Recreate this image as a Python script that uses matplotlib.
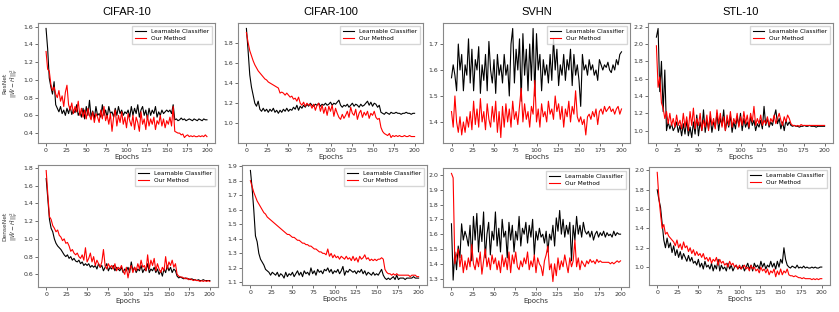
import numpy as np
import matplotlib
matplotlib.use("Agg")
import matplotlib.pyplot as plt
from matplotlib.ticker import MultipleLocator

# epochs sampled every 2
epochs = np.arange(0, 201, 2)

datasets = ["CIFAR-10", "CIFAR-100", "SVHN", "STL-10"]
models = ["ResNet", "DenseNet"]

# ---------------- ResNet ----------------
res_c10_lc = [1.58, 1.35, 1.02, 0.92, 0.84, 0.98, 0.72, 0.68, 0.64, 0.70, 0.62, 0.66, 0.60, 0.68, 0.62, 0.70,
              0.61, 0.66, 0.63, 0.72, 0.60, 0.64, 0.58, 0.68, 0.56, 0.70, 0.60, 0.77, 0.58, 0.65, 0.56, 0.70,
              0.60, 0.62, 0.58, 0.72, 0.60, 0.66, 0.58, 0.70, 0.62, 0.64, 0.58, 0.68, 0.60, 0.70, 0.62, 0.66,
              0.60, 0.64, 0.62, 0.66, 0.58, 0.70, 0.60, 0.68, 0.62, 0.72, 0.58, 0.66, 0.70, 0.60, 0.66, 0.56,
              0.68, 0.60, 0.66, 0.62, 0.70, 0.58, 0.64, 0.60, 0.66, 0.62, 0.64, 0.66, 0.64, 0.66, 0.62, 0.72,
              0.55, 0.56, 0.54, 0.55, 0.57, 0.55, 0.56, 0.54, 0.55, 0.56, 0.55, 0.54, 0.56, 0.55, 0.54, 0.56,
              0.55, 0.54, 0.56, 0.55, 0.55]
res_c10_om = [1.32, 1.12, 1.10, 0.95, 0.88, 0.92, 0.84, 0.80, 0.88, 0.76, 0.82, 0.70, 0.86, 0.94, 0.72, 0.66,
              0.74, 0.62, 0.70, 0.64, 0.76, 0.60, 0.68, 0.58, 0.66, 0.56, 0.68, 0.60, 0.55, 0.64, 0.52, 0.62,
              0.58, 0.52, 0.66, 0.56, 0.70, 0.54, 0.60, 0.50, 0.62, 0.42, 0.58, 0.66, 0.48, 0.60, 0.52, 0.64,
              0.50, 0.58, 0.46, 0.62, 0.54, 0.48, 0.60, 0.44, 0.58, 0.52, 0.42, 0.64, 0.50, 0.56, 0.44, 0.60,
              0.48, 0.56, 0.50, 0.58, 0.44, 0.54, 0.50, 0.60, 0.48, 0.56, 0.46, 0.54, 0.50, 0.58, 0.48, 0.70,
              0.42, 0.41, 0.40, 0.40, 0.38, 0.39, 0.35, 0.37, 0.38, 0.36, 0.37, 0.36, 0.37, 0.36, 0.36, 0.37,
              0.36, 0.37, 0.36, 0.38, 0.36]

res_c100_lc = [1.94, 1.72, 1.48, 1.36, 1.28, 1.20, 1.17, 1.22, 1.14, 1.12, 1.15, 1.12, 1.14, 1.11, 1.14, 1.12,
               1.15, 1.11, 1.13, 1.10, 1.13, 1.11, 1.14, 1.12, 1.15, 1.12, 1.14, 1.13, 1.16, 1.14, 1.18, 1.13,
               1.17, 1.15, 1.18, 1.16, 1.19, 1.17, 1.20, 1.18, 1.17, 1.19, 1.18, 1.20, 1.17, 1.19, 1.18, 1.20,
               1.18, 1.19, 1.21, 1.18, 1.20, 1.19, 1.21, 1.23, 1.18, 1.16, 1.18, 1.17, 1.19, 1.16, 1.18, 1.20,
               1.17, 1.19, 1.18, 1.16, 1.19, 1.17, 1.18, 1.20, 1.22, 1.18, 1.21, 1.17, 1.20, 1.19, 1.16, 1.18,
               1.11, 1.10, 1.09, 1.11, 1.10, 1.09, 1.11, 1.10, 1.10, 1.11, 1.10, 1.10, 1.09, 1.10, 1.10, 1.11,
               1.10, 1.10, 1.09, 1.10, 1.10]
res_c100_om = [1.90, 1.80, 1.72, 1.67, 1.62, 1.58, 1.55, 1.52, 1.50, 1.48, 1.46, 1.44, 1.43, 1.41, 1.40, 1.39,
               1.38, 1.37, 1.36, 1.35, 1.30, 1.31, 1.30, 1.28, 1.30, 1.28, 1.26, 1.27, 1.24, 1.25, 1.22, 1.26,
               1.20, 1.18, 1.21, 1.17, 1.20, 1.18, 1.19, 1.15, 1.19, 1.13, 1.18, 1.20, 1.12, 1.18, 1.10, 1.16,
               1.08, 1.17, 1.12, 1.18, 1.07, 1.15, 1.10, 1.06, 1.04, 1.09, 1.05, 1.08, 1.12, 1.06, 1.16, 1.10,
               1.08, 1.14, 1.04, 1.10, 1.13, 1.06, 1.11, 1.08, 1.12, 1.05, 1.10, 1.08, 1.12, 1.06, 1.04, 1.05,
               0.96, 0.92, 0.90, 0.89, 0.88, 0.90, 0.86, 0.88, 0.87, 0.88, 0.87, 0.88, 0.87, 0.87, 0.88, 0.87,
               0.87, 0.88, 0.87, 0.87, 0.87]

res_svhn_lc = [1.57, 1.62, 1.58, 1.52, 1.70, 1.60, 1.66, 1.52, 1.62, 1.58, 1.72, 1.55, 1.68, 1.52, 1.64, 1.60,
               1.69, 1.51, 1.62, 1.56, 1.66, 1.52, 1.71, 1.60, 1.55, 1.64, 1.51, 1.66, 1.58, 1.62, 1.55, 1.66,
               1.58, 1.62, 1.50, 1.70, 1.76, 1.55, 1.68, 1.60, 1.72, 1.48, 1.74, 1.58, 1.68, 1.52, 1.70, 1.56,
               1.76, 1.50, 1.74, 1.60, 1.66, 1.52, 1.64, 1.58, 1.62, 1.55, 1.66, 1.56, 1.72, 1.60, 1.68, 1.54,
               1.62, 1.58, 1.66, 1.56, 1.64, 1.60, 1.68, 1.54, 1.66, 1.58, 1.62, 1.56, 1.46, 1.66, 1.60, 1.62,
               1.58, 1.64, 1.60, 1.62, 1.58, 1.60, 1.56, 1.64, 1.62, 1.60, 1.62, 1.61, 1.63, 1.60, 1.59, 1.62,
               1.60, 1.64, 1.62, 1.66, 1.67]
res_svhn_om = [1.44, 1.38, 1.50, 1.40, 1.36, 1.42, 1.35, 1.40, 1.36, 1.42, 1.38, 1.44, 1.37, 1.48, 1.39, 1.45,
               1.38, 1.49, 1.40, 1.44, 1.37, 1.47, 1.41, 1.38, 1.46, 1.40, 1.48, 1.36, 1.44, 1.34, 1.46, 1.38,
               1.47, 1.40, 1.45, 1.38, 1.48, 1.41, 1.44, 1.39, 1.46, 1.53, 1.40, 1.47, 1.41, 1.44, 1.38, 1.46,
               1.43, 1.56, 1.40, 1.45, 1.38, 1.47, 1.42, 1.44, 1.40, 1.48, 1.43, 1.45, 1.41, 1.50, 1.44, 1.47,
               1.41, 1.46, 1.38, 1.45, 1.42, 1.48, 1.40, 1.46, 1.43, 1.52, 1.42, 1.40, 1.42, 1.39, 1.41, 1.35,
               1.42, 1.43, 1.41, 1.44, 1.42, 1.45, 1.39, 1.44, 1.45, 1.43, 1.46, 1.44, 1.45, 1.46, 1.44, 1.45,
               1.43, 1.45, 1.46, 1.43, 1.45]

res_stl_lc = [2.08, 2.18, 1.45, 1.80, 1.22, 1.70, 1.00, 1.10, 1.02, 1.08, 1.00, 1.04, 1.10, 0.98, 1.06, 0.94,
              1.08, 0.96, 1.12, 0.94, 1.04, 0.92, 1.10, 0.96, 1.18, 0.94, 1.10, 1.00, 1.24, 0.98, 1.12, 1.02,
              1.16, 0.98, 1.10, 1.04, 1.20, 1.00, 1.14, 1.06, 1.24, 1.00, 1.12, 1.04, 1.18, 0.98, 1.10, 1.02,
              1.16, 1.06, 1.20, 1.00, 1.14, 1.04, 1.10, 1.02, 1.16, 1.06, 1.12, 1.00, 1.08, 1.04, 1.12, 1.02,
              1.28, 1.06, 1.14, 1.04, 1.10, 1.06, 1.16, 1.24, 1.08, 1.14, 1.02, 1.10, 1.00, 1.12, 1.06, 1.10,
              1.06, 1.05, 1.06, 1.05, 1.05, 1.04, 1.05, 1.05, 1.06, 1.05, 1.05, 1.06, 1.05, 1.05, 1.05, 1.04,
              1.05, 1.05, 1.05, 1.05, 1.05]
res_stl_om = [1.98, 1.50, 1.62, 1.32, 1.26, 1.14, 1.22, 1.08, 1.20, 1.06, 1.14, 1.04, 1.18, 1.06, 1.12, 1.02,
              1.20, 1.04, 1.16, 1.00, 1.22, 1.06, 1.26, 1.02, 1.14, 1.06, 1.20, 1.00, 1.12, 1.04, 1.18, 1.00,
              1.22, 1.06, 1.14, 1.02, 1.24, 1.08, 1.20, 1.04, 1.16, 1.00, 1.18, 1.06, 1.22, 1.04, 1.14, 1.08,
              1.20, 1.04, 1.16, 1.06, 1.22, 1.08, 1.18, 1.04, 1.20, 1.10, 1.28, 1.06, 1.14, 1.08, 1.18, 1.06,
              1.12, 1.08, 1.16, 1.06, 1.14, 1.10, 1.18, 1.08, 1.14, 1.20, 1.12, 1.06, 1.16, 1.10, 1.18, 1.14,
              1.08, 1.06, 1.06, 1.05, 1.06, 1.05, 1.07, 1.06, 1.06, 1.06, 1.06, 1.06, 1.06, 1.06, 1.06, 1.06,
              1.06, 1.06, 1.06, 1.06, 1.06]

# ---------------- DenseNet ----------------
den_c10_lc = [1.68, 1.45, 1.22, 1.12, 1.08, 1.00, 0.95, 0.92, 0.90, 0.88, 0.85, 0.82, 0.80, 0.82, 0.78, 0.80,
              0.76, 0.78, 0.75, 0.74, 0.76, 0.72, 0.74, 0.70, 0.72, 0.70, 0.72, 0.68, 0.70, 0.68, 0.70, 0.66,
              0.72, 0.68, 0.70, 0.64, 0.68, 0.72, 0.64, 0.68, 0.66, 0.70, 0.64, 0.68, 0.66, 0.64, 0.68, 0.62,
              0.66, 0.64, 0.68, 0.62, 0.74, 0.64, 0.68, 0.62, 0.66, 0.64, 0.70, 0.62, 0.66, 0.64, 0.72, 0.62,
              0.66, 0.64, 0.68, 0.62, 0.66, 0.60, 0.64, 0.58, 0.66, 0.62, 0.70, 0.64, 0.68, 0.62, 0.66, 0.64,
              0.58, 0.56, 0.57, 0.56, 0.55, 0.56, 0.55, 0.55, 0.54, 0.55, 0.54, 0.54, 0.53, 0.54, 0.53, 0.53,
              0.54, 0.53, 0.53, 0.53, 0.53]
den_c10_om = [1.77, 1.50, 1.25, 1.22, 1.15, 1.12, 1.08, 1.10, 1.04, 1.02, 0.98, 1.00, 0.95, 0.96, 0.92, 0.86,
              0.88, 0.84, 0.82, 0.84, 0.80, 0.78, 0.82, 0.76, 0.90, 0.74, 0.78, 0.84, 0.74, 0.80, 0.70, 0.76,
              0.72, 0.68, 0.74, 0.88, 0.70, 0.66, 0.72, 0.68, 0.70, 0.66, 0.72, 0.64, 0.68, 0.66, 0.70, 0.64,
              0.60, 0.68, 0.56, 0.66, 0.70, 0.62, 0.68, 0.64, 0.72, 0.66, 0.76, 0.68, 0.70, 0.64, 0.82, 0.66,
              0.76, 0.70, 0.78, 0.64, 0.72, 0.66, 0.62, 0.68, 0.64, 0.80, 0.66, 0.74, 0.70, 0.76, 0.68, 0.72,
              0.60, 0.58, 0.57, 0.57, 0.56, 0.55, 0.56, 0.54, 0.55, 0.54, 0.53, 0.54, 0.53, 0.53, 0.52, 0.53,
              0.52, 0.53, 0.52, 0.53, 0.52]

den_c100_lc = [1.87, 1.75, 1.60, 1.42, 1.38, 1.30, 1.26, 1.24, 1.22, 1.19, 1.18, 1.17, 1.15, 1.17, 1.16, 1.15,
               1.17, 1.14, 1.16, 1.15, 1.13, 1.17, 1.14, 1.16, 1.15, 1.17, 1.14, 1.16, 1.18, 1.15, 1.17, 1.14,
               1.18, 1.16, 1.17, 1.15, 1.20, 1.16, 1.18, 1.15, 1.19, 1.17, 1.18, 1.16, 1.19, 1.18, 1.20, 1.17,
               1.19, 1.16, 1.18, 1.17, 1.19, 1.16, 1.18, 1.21, 1.15, 1.18, 1.17, 1.19, 1.18, 1.17, 1.18, 1.16,
               1.18, 1.17, 1.19, 1.16, 1.18, 1.15, 1.17, 1.16, 1.15, 1.17, 1.15, 1.16, 1.15, 1.17, 1.19, 1.15,
               1.13, 1.12, 1.13, 1.12, 1.13, 1.14, 1.12, 1.15, 1.12, 1.13, 1.13, 1.13, 1.12, 1.13, 1.13, 1.13,
               1.13, 1.14, 1.13, 1.13, 1.13]
den_c100_om = [1.80, 1.76, 1.72, 1.69, 1.66, 1.64, 1.62, 1.60, 1.58, 1.57, 1.55, 1.54, 1.53, 1.52, 1.51, 1.50,
               1.49, 1.48, 1.47, 1.46, 1.45, 1.44, 1.43, 1.43, 1.42, 1.41, 1.41, 1.40, 1.39, 1.39, 1.38, 1.37,
               1.37, 1.36, 1.36, 1.35, 1.35, 1.34, 1.33, 1.33, 1.32, 1.31, 1.31, 1.30, 1.30, 1.29, 1.33, 1.28,
               1.30, 1.27, 1.29, 1.27, 1.28, 1.26, 1.28, 1.27, 1.26, 1.28, 1.26, 1.27, 1.25, 1.28, 1.25, 1.27,
               1.24, 1.28, 1.26, 1.27, 1.29, 1.26, 1.27, 1.25, 1.26, 1.25, 1.26, 1.25, 1.26, 1.26, 1.27, 1.26,
               1.19, 1.17, 1.16, 1.16, 1.15, 1.16, 1.15, 1.16, 1.15, 1.15, 1.15, 1.15, 1.15, 1.15, 1.15, 1.14,
               1.15, 1.15, 1.15, 1.14, 1.14]

den_svhn_lc = [1.67, 1.29, 1.48, 1.36, 1.52, 1.44, 1.67, 1.56, 1.62, 1.58, 1.52, 1.66, 1.42, 1.72, 1.56, 1.74,
               1.48, 1.66, 1.55, 1.75, 1.44, 1.60, 1.68, 1.46, 1.62, 1.56, 1.75, 1.52, 1.64, 1.48, 1.70, 1.58,
               1.62, 1.44, 1.68, 1.56, 1.66, 1.48, 1.62, 1.56, 1.72, 1.52, 1.64, 1.60, 1.68, 1.54, 1.66, 1.58,
               1.70, 1.46, 1.62, 1.56, 1.64, 1.58, 1.60, 1.54, 1.62, 1.48, 1.60, 1.56, 1.66, 1.52, 1.71, 1.62,
               1.76, 1.60, 1.70, 1.58, 1.66, 1.60, 1.68, 1.42, 1.66, 1.56, 1.72, 1.60, 1.66, 1.58, 1.68, 1.62,
               1.60, 1.62, 1.58, 1.62, 1.56, 1.60, 1.62, 1.58, 1.61, 1.59, 1.62, 1.58, 1.61, 1.59, 1.60, 1.58,
               1.62, 1.59, 1.61, 1.60, 1.60]
den_svhn_om = [2.01, 1.98, 1.40, 1.46, 1.50, 1.38, 1.46, 1.34, 1.42, 1.36, 1.44, 1.38, 1.53, 1.40, 1.36, 1.44,
               1.38, 1.48, 1.33, 1.42, 1.50, 1.38, 1.44, 1.36, 1.46, 1.40, 1.44, 1.36, 1.42, 1.34, 1.46, 1.38,
               1.44, 1.36, 1.48, 1.34, 1.46, 1.40, 1.48, 1.38, 1.36, 1.42, 1.38, 1.44, 1.40, 1.48, 1.36, 1.42,
               1.38, 1.46, 1.34, 1.44, 1.40, 1.38, 1.32, 1.42, 1.46, 1.52, 1.36, 1.40, 1.28, 1.40, 1.32, 1.44,
               1.36, 1.42, 1.38, 1.46, 1.40, 1.34, 1.44, 1.38, 1.42, 1.56, 1.38, 1.44, 1.36, 1.42, 1.40, 1.38,
               1.42, 1.40, 1.43, 1.41, 1.42, 1.40, 1.43, 1.41, 1.42, 1.41, 1.41, 1.41, 1.41, 1.41, 1.40, 1.41,
               1.40, 1.41, 1.42, 1.41, 1.42]

den_stl_lc = [1.80, 1.70, 1.62, 1.45, 1.28, 1.20, 1.30, 1.20, 1.25, 1.15, 1.22, 1.12, 1.18, 1.10, 1.16, 1.08,
              1.14, 1.10, 1.06, 1.12, 1.06, 1.10, 1.04, 1.06, 1.02, 1.08, 1.00, 1.04, 0.98, 1.06, 1.00, 1.02,
              0.98, 1.04, 0.96, 1.02, 0.98, 1.08, 0.96, 1.02, 0.98, 1.00, 0.96, 1.04, 0.98, 1.02, 0.96, 1.00,
              1.02, 0.98, 1.00, 0.98, 1.02, 0.96, 1.00, 1.04, 0.98, 1.02, 0.96, 1.04, 1.00, 1.02, 0.98, 1.06,
              1.00, 1.04, 0.98, 1.02, 1.00, 1.06, 1.00, 1.04, 0.98, 1.06, 1.00, 1.08, 1.04, 1.20, 1.08, 1.02,
              1.00, 0.99, 1.01, 1.00, 0.99, 1.02, 0.99, 1.00, 0.99, 1.01, 0.99, 1.00, 0.99, 0.99, 1.00, 0.99,
              1.00, 0.99, 0.99, 1.00, 1.00]
den_stl_om = [1.98, 1.72, 1.55, 1.40, 1.44, 1.34, 1.36, 1.32, 1.30, 1.28, 1.26, 1.22, 1.28, 1.20, 1.24, 1.18,
              1.26, 1.20, 1.22, 1.16, 1.20, 1.14, 1.18, 1.12, 1.16, 1.12, 1.14, 1.10, 1.14, 1.08, 1.10, 1.06,
              1.10, 1.04, 1.08, 1.06, 1.10, 1.02, 1.08, 1.04, 1.06, 1.02, 1.04, 1.00, 1.06, 1.02, 1.04, 1.00,
              1.02, 0.98, 1.02, 0.98, 1.00, 1.02, 0.98, 1.00, 0.96, 1.02, 0.98, 1.00, 0.96, 0.98, 0.94, 1.00,
              0.96, 0.98, 0.94, 0.98, 0.92, 0.96, 0.94, 0.98, 0.90, 0.96, 0.92, 0.98, 0.92, 0.96, 0.94, 0.98,
              0.92, 0.91, 0.91, 0.90, 0.91, 0.90, 0.89, 0.89, 0.88, 0.89, 0.88, 0.88, 0.88, 0.88, 0.87, 0.88,
              0.87, 0.88, 0.87, 0.88, 0.88]

learnable = [[res_c10_lc, res_c100_lc, res_svhn_lc, res_stl_lc],
             [den_c10_lc, den_c100_lc, den_svhn_lc, den_stl_lc]]
ours = [[res_c10_om, res_c100_om, res_svhn_om, res_stl_om],
        [den_c10_om, den_c100_om, den_svhn_om, den_stl_om]]

# y tick step per panel
ystep = [[0.2, 0.2, 0.1, 0.2],
         [0.2, 0.1, 0.1, 0.2]]

# axes boxes in pixels: left, right, top, bottom
W, H = 839, 312
boxes = [[(38, 215, 23, 143), (238, 423, 23, 143), (443, 630, 23, 143), (648, 833, 23, 143)],
         [(38, 218, 165, 287), (242, 427, 165, 285), (443, 629, 168, 287), (649, 830, 167, 285)]]

fig = plt.figure(figsize=(W / 100, H / 100), dpi=100)

for r in range(2):
    for c in range(4):
        l, rr, t, b = boxes[r][c]
        ax = fig.add_axes([l / W, 1 - b / H, (rr - l) / W, (b - t) / H])
        ax.plot(epochs, learnable[r][c], color='k', lw=0.8, label='Learnable Classifier')
        ax.plot(epochs, ours[r][c], color='r', lw=0.8, label='Our Method')
        ax.set_xticks(np.arange(0, 201, 25))
        ax.yaxis.set_major_locator(MultipleLocator(ystep[r][c]))
        ax.tick_params(labelsize=4.5, length=2, width=0.5, pad=1.5, colors='#333333')
        for s in ax.spines.values():
            s.set_color('#888888')
            s.set_linewidth(0.8)
        ax.set_xlabel('Epochs', fontsize=5, labelpad=1, color='#333333')
        ax.legend(loc='upper right', fontsize=4.2, frameon=True, fancybox=False,
                  edgecolor='#cccccc', handlelength=2.0, borderpad=0.5, labelspacing=0.35)
        if r == 0:
            ax.set_title(datasets[c], fontsize=8, pad=6, family='Liberation Sans')
        if c == 0:
            ax.set_ylabel(models[r] + '\n' + r'$||\hat{W}-\hat{H}||_F^2$', fontsize=4.2,
                          labelpad=3, color='#333333')

plt.savefig('out.png', dpi=100)
